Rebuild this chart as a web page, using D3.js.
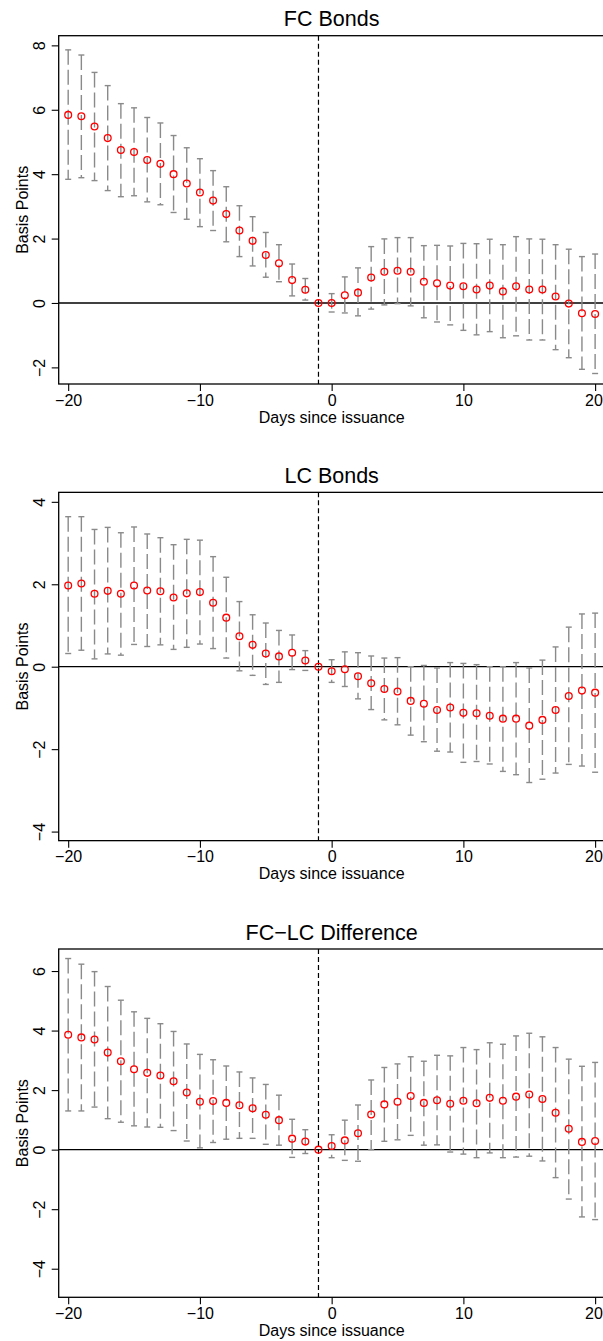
<!DOCTYPE html>
<html>
<head>
<meta charset="utf-8">
<script src="https://cdn.jsdelivr.net/npm/d3@7"></script>
<style>
  html, body { margin: 0; padding: 0; background: #fff; }
  svg { display: block; }
  text { font-family: "Liberation Sans", Arial, Helvetica, sans-serif; fill: #000; }
</style>
</head>
<body>
<script>
// ---------------- data ----------------
const days = [-20,-19,-18,-17,-16,-15,-14,-13,-12,-11,-10,-9,-8,-7,-6,-5,-4,-3,-2,-1,
              0,1,2,3,4,5,6,7,8,9,10,11,12,13,14,15,16,17,18,19,20];
const xTicks = [-20, -10, 0, 10, 20];

const fcEst = [5.84,5.80,5.48,5.12,4.75,4.69,4.44,4.32,4.00,3.71,3.43,3.18,2.76,2.25,1.93,1.49,1.23,0.71,0.41,0,
               0.00,0.24,0.32,0.79,0.97,1.00,0.97,0.66,0.61,0.54,0.52,0.42,0.54,0.36,0.52,0.42,0.42,0.20,-0.02,-0.32,-0.34];
const fcHi  = [7.86,7.70,7.16,6.75,6.19,6.06,5.76,5.59,5.20,4.82,4.48,4.11,3.61,3.02,2.68,2.19,1.81,1.21,0.76,0,
               0.29,0.81,1.09,1.75,1.99,2.03,2.03,1.78,1.79,1.77,1.85,1.84,1.98,1.81,2.06,1.99,1.98,1.81,1.67,1.44,1.52];
const fcLo  = [3.84,3.89,3.80,3.49,3.30,3.33,3.14,3.05,2.81,2.60,2.37,2.25,1.90,1.44,1.15,0.80,0.66,0.22,0.09,0,
               -0.28,-0.31,-0.40,-0.19,-0.06,-0.02,-0.09,-0.46,-0.59,-0.68,-0.85,-0.99,-0.89,-1.08,-1.02,-1.15,-1.15,-1.45,-1.70,-2.06,-2.19];
const fcTicks = [-2, 0, 2, 4, 6, 8];

const lcEst = [1.97,2.02,1.77,1.84,1.77,1.97,1.85,1.83,1.68,1.78,1.81,1.55,1.19,0.74,0.53,0.32,0.25,0.34,0.15,0,
               -0.11,-0.06,-0.23,-0.40,-0.54,-0.60,-0.83,-0.90,-1.05,-0.99,-1.12,-1.13,-1.19,-1.26,-1.26,-1.43,-1.29,-1.05,-0.71,-0.58,-0.63];
const lcHi  = [3.64,3.64,3.33,3.38,3.25,3.39,3.22,3.13,2.96,3.09,3.07,2.67,2.17,1.58,1.26,1.06,0.88,0.77,0.39,0,
               0.17,0.36,0.34,0.26,0.21,0.22,0.00,0.03,-0.03,0.10,0.08,0.05,0.00,0.00,0.10,-0.03,0.16,0.48,0.96,1.28,1.30];
const lcLo  = [0.32,0.40,0.19,0.31,0.28,0.54,0.49,0.53,0.42,0.47,0.55,0.44,0.21,-0.10,-0.21,-0.43,-0.38,-0.07,-0.09,0,
               -0.38,-0.48,-0.78,-1.04,-1.29,-1.41,-1.66,-1.82,-2.05,-2.07,-2.32,-2.30,-2.36,-2.54,-2.62,-2.81,-2.73,-2.58,-2.37,-2.41,-2.56];
const lcTicks = [-4, -2, 0, 2, 4];

const diffEst = [3.86,3.77,3.70,3.26,2.97,2.70,2.58,2.49,2.30,1.92,1.61,1.63,1.57,1.49,1.39,1.17,0.99,0.37,0.27,0,
                 0.12,0.31,0.55,1.18,1.52,1.61,1.80,1.57,1.66,1.54,1.64,1.56,1.74,1.64,1.78,1.85,1.70,1.24,0.70,0.26,0.29];
const diffHi  = [6.42,6.23,5.98,5.48,5.02,4.63,4.41,4.23,3.97,3.55,3.20,3.02,2.81,2.61,2.41,2.19,1.83,1.02,0.67,0,
                 0.50,0.99,1.50,2.34,2.76,2.88,3.12,2.97,3.17,3.15,3.43,3.36,3.59,3.54,3.82,3.91,3.79,3.43,3.04,2.80,2.93];
const diffLo  = [1.30,1.30,1.43,1.04,0.92,0.80,0.76,0.75,0.64,0.29,0.06,0.24,0.35,0.38,0.38,0.18,0.15,-0.26,-0.13,0,
                 -0.27,-0.36,-0.39,0.00,0.28,0.33,0.48,0.15,0.16,-0.08,-0.15,-0.27,-0.11,-0.27,-0.25,-0.22,-0.38,-0.94,-1.66,-2.26,-2.35];
const diffTicks = [-4, -2, 0, 2, 4, 6];

const titles = ["FC Bonds", "LC Bonds", "FC\u2212LC Difference"];
const xLabel = "Days since issuance";
const yLabel = "Basis Points";
const eventDay = -1;

// ---------------- layout ----------------
const W = 603, H = 1341;
const left = 58.7, right = 604.6;
const panelTop0 = 35.7, panelStep = 456.65, panelH = 348.3;

const panels = [
  { title: titles[0], est: fcEst, lo: fcLo, hi: fcHi, ticks: fcTicks, dom: [-2.516, 8.30] },
  { title: titles[1], est: lcEst, lo: lcLo, hi: lcHi, ticks: lcTicks, dom: [-4.22, 4.23] },
  { title: titles[2], est: diffEst, lo: diffLo, hi: diffHi, ticks: diffTicks, dom: [-4.96, 6.74] }
];

const svg = d3.select("body").append("svg")
  .attr("width", W).attr("height", H)
  .attr("viewBox", `0 0 ${W} ${H}`);
svg.append("rect").attr("width", W).attr("height", H).attr("fill", "#fff");

const x = d3.scaleLinear().domain([-20.72, 20.72]).range([left, right]);
const minus = s => String(s).replace("-", "\u2212");

panels.forEach((p, i) => {
  const top = panelTop0 + i * panelStep;
  const bottom = top + panelH;
  const y = d3.scaleLinear().domain(p.dom).range([bottom, top]);
  const g = svg.append("g");

  // title
  g.append("text")
    .attr("x", (left + right) / 2).attr("y", top - 9.5)
    .attr("text-anchor", "middle").attr("font-size", 21.5)
    .text(p.title);

  // x axis
  const xa = g.append("g").attr("transform", `translate(0,${bottom})`)
    .call(d3.axisBottom(x).tickValues(xTicks).tickSize(7).tickPadding(3).tickFormat(minus));
  xa.select(".domain").remove();
  xa.selectAll("line").attr("stroke", "#000").attr("stroke-width", 1.1);
  xa.selectAll("text").attr("font-size", 16).attr("dy", null).attr("y", 21.5)
    .attr("dx", d => (x(d) + 9 > W ? W - 0.5 - 9 - x(d) : 0))
    .style("font-family", '"Liberation Sans", Arial, sans-serif');

  // y axis (rotated labels)
  const ya = g.append("g").attr("transform", `translate(${left},0)`)
    .call(d3.axisLeft(y).tickValues(p.ticks).tickSize(7).tickFormat(minus));
  ya.select(".domain").remove();
  ya.selectAll("line").attr("stroke", "#000").attr("stroke-width", 1.1);
  ya.selectAll("text")
    .attr("x", null).attr("dy", null)
    .attr("text-anchor", "middle").attr("font-size", 16)
    .style("font-family", '"Liberation Sans", Arial, sans-serif')
    .attr("transform", "translate(-13.7,0) rotate(-90)");

  // axis titles
  g.append("text")
    .attr("x", (left + right) / 2).attr("y", bottom + 38.5)
    .attr("text-anchor", "middle").attr("font-size", 16)
    .text(xLabel);
  g.append("text")
    .attr("transform", `translate(28,${(top + bottom) / 2}) rotate(-90)`)
    .attr("text-anchor", "middle").attr("font-size", 16)
    .text(yLabel);

  // zero line
  g.append("line")
    .attr("x1", left).attr("x2", right)
    .attr("y1", y(0)).attr("y2", y(0))
    .attr("stroke", "#000").attr("stroke-width", 1.3);

  // event line
  g.append("line")
    .attr("x1", x(eventDay)).attr("x2", x(eventDay))
    .attr("y1", top).attr("y2", bottom)
    .attr("stroke", "#000").attr("stroke-width", 1.2)
    .attr("stroke-dasharray", "5,3");

  // error bars
  const rows = days.map((d, k) => ({ d, est: p.est[k], lo: p.lo[k], hi: p.hi[k] }))
    .filter(r => r.hi !== r.lo);
  const eb = g.append("g").attr("stroke", "#8a8a8a").attr("stroke-width", 1.4).attr("fill", "none");
  eb.selectAll("line.v").data(rows).join("line").attr("class", "v")
    .attr("x1", r => x(r.d)).attr("x2", r => x(r.d))
    .attr("y1", r => y(r.hi)).attr("y2", r => y(r.lo))
    .attr("stroke-dasharray", "15,5");
  eb.selectAll("line.ch").data(rows).join("line").attr("class", "ch")
    .attr("x1", r => x(r.d) - 3).attr("x2", r => x(r.d) + 3)
    .attr("y1", r => y(r.hi)).attr("y2", r => y(r.hi));
  eb.selectAll("line.cl").data(rows).join("line").attr("class", "cl")
    .attr("x1", r => x(r.d) - 3).attr("x2", r => x(r.d) + 3)
    .attr("y1", r => y(r.lo)).attr("y2", r => y(r.lo));

  // points
  g.append("g").selectAll("circle")
    .data(days.map((d, k) => ({ d, v: p.est[k] })))
    .join("circle")
    .attr("cx", r => x(r.d)).attr("cy", r => y(r.v))
    .attr("r", 3.4).attr("fill", "none")
    .attr("stroke", "#ff0000").attr("stroke-width", 1.3);

  // box
  g.append("rect")
    .attr("x", left).attr("y", top)
    .attr("width", right - left).attr("height", panelH)
    .attr("fill", "none").attr("stroke", "#000").attr("stroke-width", 1.3);
});
</script>
</body>
</html>
